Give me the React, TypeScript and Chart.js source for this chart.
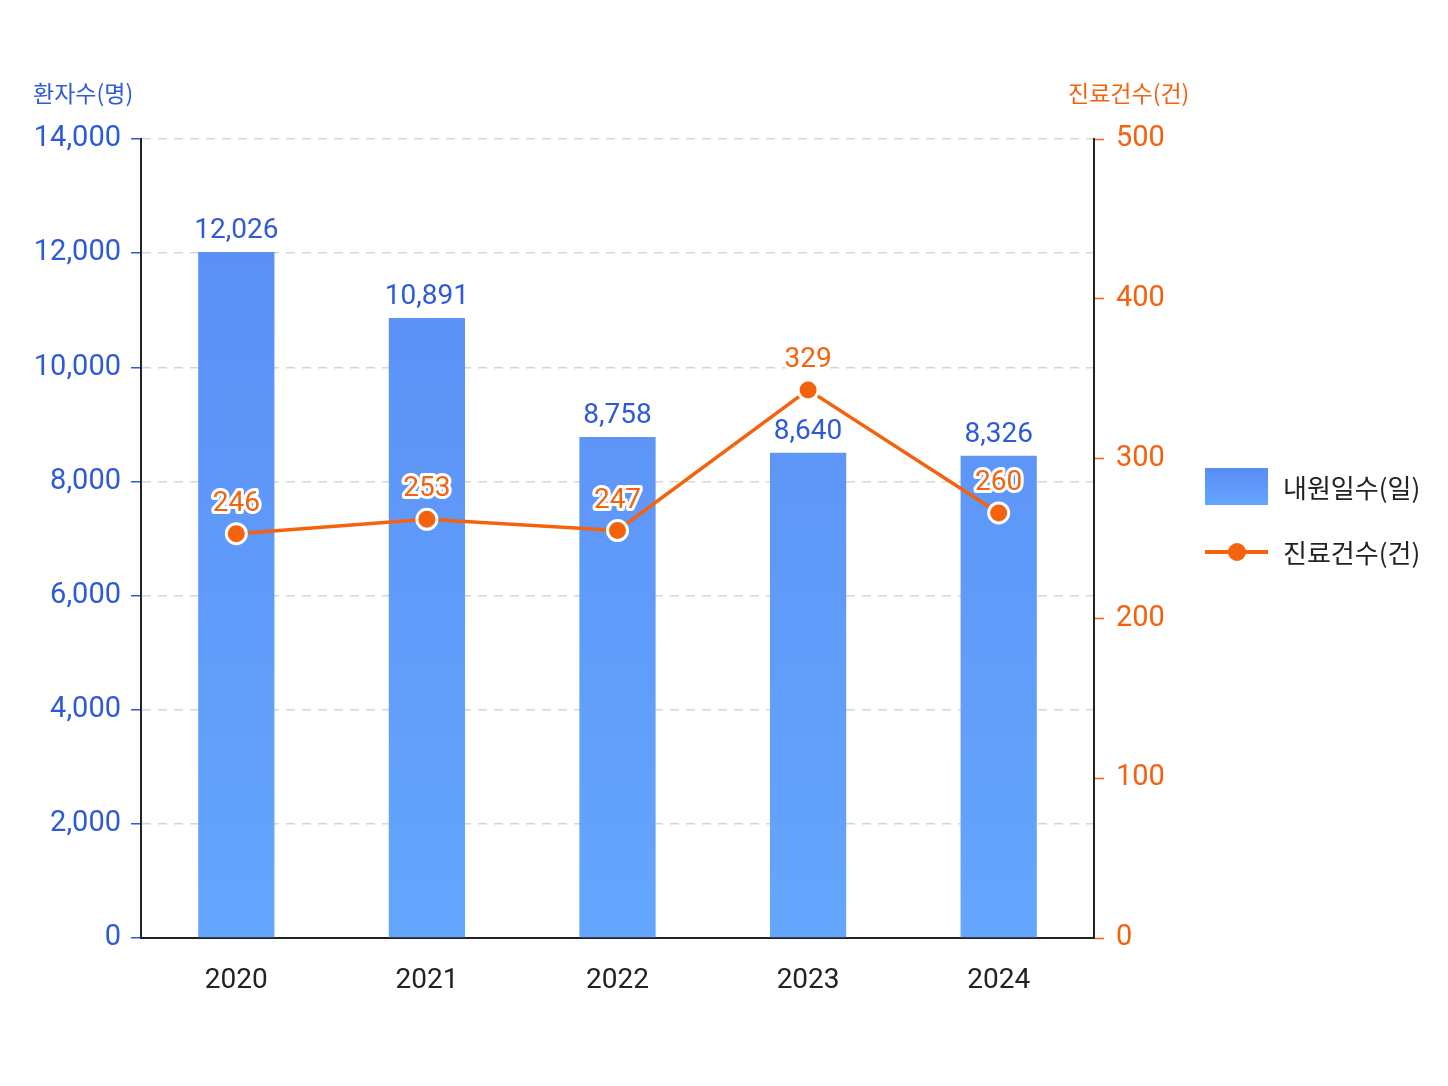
import { useRef, useEffect } from 'react';
import { Chart, registerables } from 'chart.js';

Chart.register(...registerables);

const years = ['2020', '2021', '2022', '2023', '2024'];
// values as printed on the chart
const visitDayLabels = [12026, 10891, 8758, 8640, 8326];
const treatmentLabels = [246, 253, 247, 329, 260];
const visitDays = [12020, 10864, 8779, 8503, 8450];
const treatments = [253, 262, 255, 343, 266];
const leftTicks = [0, 2000, 4000, 6000, 8000, 10000, 12000, 14000];
const rightTicks = [0, 100, 200, 300, 400, 500];

const BLUE_TEXT = '#2D5AD8';
const ORANGE = '#F4620E';
const DARK = '#222222';
const NUM_FONT = 'Roboto, "Noto Sans CJK KR", sans-serif';
const KR_FONT = '"Noto Sans CJK KR", Roboto, sans-serif';

const fmt = (v: number) => v.toLocaleString('en-US');

const barGradient = (c: CanvasRenderingContext2D, top: number, bottom: number) => {
  const g = c.createLinearGradient(0, top, 0, bottom);
  g.addColorStop(0, '#5A8CF4');
  g.addColorStop(1, '#64A6FD');
  return g;
};

const labelsPlugin = {
  id: 'valueLabels',
  afterDatasetsDraw(chart: any) {
    const ctx = chart.ctx;
    ctx.save();
    ctx.font = `28px ${NUM_FONT}`;
    ctx.textAlign = 'center';
    ctx.textBaseline = 'alphabetic';

    // bar labels
    chart.getDatasetMeta(0).data.forEach((el: any, i: number) => {
      ctx.fillStyle = BLUE_TEXT;
      ctx.fillText(fmt(visitDayLabels[i]), el.x, el.y - 14);
    });

    // line labels with white halo
    chart.getDatasetMeta(1).data.forEach((el: any, i: number) => {
      ctx.lineWidth = 6;
      ctx.lineJoin = 'round';
      ctx.strokeStyle = '#ffffff';
      ctx.strokeText(String(treatmentLabels[i]), el.x, el.y - 23);
      ctx.fillStyle = ORANGE;
      ctx.fillText(String(treatmentLabels[i]), el.x, el.y - 23);
    });
    ctx.restore();
  },
};

const extrasPlugin = {
  id: 'extras',
  afterDraw(chart: any) {
    const ctx = chart.ctx;
    ctx.save();

    // axis titles
    ctx.font = `23px ${KR_FONT}`;
    ctx.textBaseline = 'middle';
    ctx.textAlign = 'left';
    ctx.fillStyle = BLUE_TEXT;
    ctx.fillText('환자수(명)', 33, 93);
    ctx.fillStyle = ORANGE;
    ctx.fillText('진료건수(건)', 1068, 93);

    // legend
    ctx.fillStyle = barGradient(ctx, 468, 505);
    ctx.fillRect(1205, 468, 63, 37);

    ctx.strokeStyle = ORANGE;
    ctx.lineWidth = 4;
    ctx.beginPath();
    ctx.moveTo(1205, 552);
    ctx.lineTo(1268, 552);
    ctx.stroke();
    ctx.beginPath();
    ctx.arc(1237, 552, 9, 0, Math.PI * 2);
    ctx.fillStyle = ORANGE;
    ctx.fill();

    ctx.font = `26px ${KR_FONT}`;
    ctx.fillStyle = DARK;
    ctx.fillText('내원일수(일)', 1283, 488);
    ctx.fillText('진료건수(건)', 1283, 553);
    ctx.restore();
  },
};

const App = () => {
  const canvasRef = useRef<HTMLCanvasElement | null>(null);
  const chartRef = useRef<Chart | null>(null);

  useEffect(() => {
    if (!canvasRef.current) return;
    if (chartRef.current) chartRef.current.destroy();

    chartRef.current = new Chart(canvasRef.current, {
      type: 'bar',
      data: {
        labels: years,
        datasets: [
          {
            type: 'bar',
            label: '내원일수(일)',
            data: visitDays,
            yAxisID: 'y',
            order: 1,
            barPercentage: 0.4,
            categoryPercentage: 1,
            backgroundColor: (c: any) => {
              const area = c.chart.chartArea;
              if (!area) return '#5E96F8';
              return barGradient(c.chart.ctx, area.top, area.bottom);
            },
          },
          {
            type: 'line',
            label: '진료건수(건)',
            data: treatments,
            yAxisID: 'y1',
            order: 0,
            borderColor: ORANGE,
            borderWidth: 3.5,
            tension: 0,
            pointRadius: 10,
            pointBackgroundColor: ORANGE,
            pointBorderColor: '#ffffff',
            pointBorderWidth: 3,
          },
        ],
      },
      options: {
        responsive: false,
        animation: false,
        layout: { padding: { top: 139, left: 0, right: 0, bottom: 0 } },
        plugins: {
          legend: { display: false },
          tooltip: { enabled: false },
        },
        scales: {
          x: {
            grid: { display: false },
            border: { display: true, color: DARK, width: 2 },
            ticks: { color: DARK, font: { family: NUM_FONT, size: 28 }, padding: 18 },
            afterFit: (s: any) => { s.height = 148; },
          },
          y: {
            position: 'left',
            min: 0,
            max: 14000,
            afterBuildTicks: (s: any) => { s.ticks = leftTicks.map((v) => ({ value: v })); },
            grid: { color: '#D6D6D6', tickColor: BLUE_TEXT, tickLength: 10, lineWidth: 1.5, tickWidth: 1.5 },
            border: { display: true, color: DARK, width: 2, dash: [9, 7] },
            ticks: {
              color: BLUE_TEXT,
              font: { family: NUM_FONT, size: 29 },
              padding: 10,
              callback: (v: any) => fmt(Number(v)),
            },
            afterFit: (s: any) => { s.width = 141; },
          },
          y1: {
            position: 'right',
            min: 0,
            max: 500,
            afterBuildTicks: (s: any) => { s.ticks = rightTicks.map((v) => ({ value: v })); },
            grid: { drawOnChartArea: false, tickColor: ORANGE, tickLength: 10, tickWidth: 1.5 },
            border: { display: true, color: DARK, width: 2 },
            ticks: { color: ORANGE, font: { family: NUM_FONT, size: 29 }, padding: 12 },
            afterFit: (s: any) => { s.width = 354; },
          },
        },
      },
      plugins: [labelsPlugin, extrasPlugin],
    } as any);

    return () => {
      if (chartRef.current) {
        chartRef.current.destroy();
        chartRef.current = null;
      }
    };
  }, []);

  return (
    <div style={{ position: 'fixed', left: 0, top: 0, width: 1448, height: 1086, background: '#ffffff' }}>
      <canvas ref={canvasRef} width={1448} height={1086} style={{ width: 1448, height: 1086 }} />
    </div>
  );
};

export default App;
